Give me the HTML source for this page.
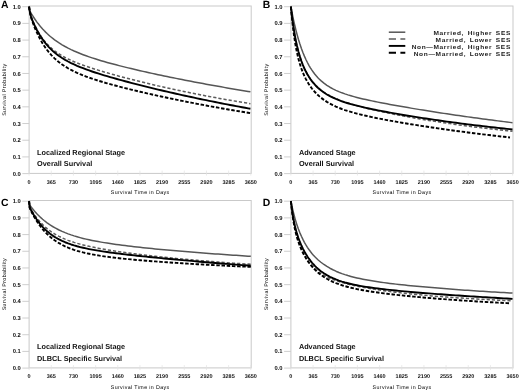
<!DOCTYPE html>
<html><head><meta charset="utf-8"><style>
html,body{margin:0;padding:0;background:#fff;}
svg{display:block;filter:blur(0.45px);}
text{font-family:"Liberation Sans",sans-serif;text-rendering:geometricPrecision;}
</style></head><body>
<svg width="520" height="391" viewBox="0 0 520 391">
<rect width="520" height="391" fill="#fff"/>
<g transform="translate(0 0)">
<rect x="29.1" y="6" width="222.1" height="167.4" fill="none" stroke="#c9c9c9" stroke-width="1"/>
<line x1="22.3" x2="29.1" y1="173.6" y2="173.6" stroke="#c9c9c9" stroke-width="0.9"/>
<text x="20.8" y="175.65" text-anchor="end" font-size="5.8" font-weight="bold" fill="#111">0.0</text>
<line x1="22.3" x2="29.1" y1="156.91" y2="156.91" stroke="#c9c9c9" stroke-width="0.9"/>
<text x="20.8" y="158.96" text-anchor="end" font-size="5.8" font-weight="bold" fill="#111">0.1</text>
<line x1="22.3" x2="29.1" y1="140.22" y2="140.22" stroke="#c9c9c9" stroke-width="0.9"/>
<text x="20.8" y="142.27" text-anchor="end" font-size="5.8" font-weight="bold" fill="#111">0.2</text>
<line x1="22.3" x2="29.1" y1="123.53" y2="123.53" stroke="#c9c9c9" stroke-width="0.9"/>
<text x="20.8" y="125.58" text-anchor="end" font-size="5.8" font-weight="bold" fill="#111">0.3</text>
<line x1="22.3" x2="29.1" y1="106.84" y2="106.84" stroke="#c9c9c9" stroke-width="0.9"/>
<text x="20.8" y="108.89" text-anchor="end" font-size="5.8" font-weight="bold" fill="#111">0.4</text>
<line x1="22.3" x2="29.1" y1="90.15" y2="90.15" stroke="#c9c9c9" stroke-width="0.9"/>
<text x="20.8" y="92.2" text-anchor="end" font-size="5.8" font-weight="bold" fill="#111">0.5</text>
<line x1="22.3" x2="29.1" y1="73.46" y2="73.46" stroke="#c9c9c9" stroke-width="0.9"/>
<text x="20.8" y="75.51" text-anchor="end" font-size="5.8" font-weight="bold" fill="#111">0.6</text>
<line x1="22.3" x2="29.1" y1="56.77" y2="56.77" stroke="#c9c9c9" stroke-width="0.9"/>
<text x="20.8" y="58.82" text-anchor="end" font-size="5.8" font-weight="bold" fill="#111">0.7</text>
<line x1="22.3" x2="29.1" y1="40.08" y2="40.08" stroke="#c9c9c9" stroke-width="0.9"/>
<text x="20.8" y="42.13" text-anchor="end" font-size="5.8" font-weight="bold" fill="#111">0.8</text>
<line x1="22.3" x2="29.1" y1="23.39" y2="23.39" stroke="#c9c9c9" stroke-width="0.9"/>
<text x="20.8" y="25.44" text-anchor="end" font-size="5.8" font-weight="bold" fill="#111">0.9</text>
<line x1="22.3" x2="29.1" y1="6.7" y2="6.7" stroke="#c9c9c9" stroke-width="0.9"/>
<text x="20.8" y="8.75" text-anchor="end" font-size="5.8" font-weight="bold" fill="#111">1.0</text>
<line x1="29.1" x2="29.1" y1="170.6" y2="175.6" stroke="#e2e2e2" stroke-width="0.7"/>
<text x="29.1" y="183.7" text-anchor="middle" font-size="5.5" font-weight="bold" fill="#111">0</text>
<line x1="51.27" x2="51.27" y1="170.6" y2="175.6" stroke="#e2e2e2" stroke-width="0.7"/>
<text x="51.27" y="183.7" text-anchor="middle" font-size="5.5" font-weight="bold" fill="#111">365</text>
<line x1="73.44" x2="73.44" y1="170.6" y2="175.6" stroke="#e2e2e2" stroke-width="0.7"/>
<text x="73.44" y="183.7" text-anchor="middle" font-size="5.5" font-weight="bold" fill="#111">730</text>
<line x1="95.61" x2="95.61" y1="170.6" y2="175.6" stroke="#e2e2e2" stroke-width="0.7"/>
<text x="95.61" y="183.7" text-anchor="middle" font-size="5.5" font-weight="bold" fill="#111">1095</text>
<line x1="117.78" x2="117.78" y1="170.6" y2="175.6" stroke="#e2e2e2" stroke-width="0.7"/>
<text x="117.78" y="183.7" text-anchor="middle" font-size="5.5" font-weight="bold" fill="#111">1460</text>
<line x1="139.95" x2="139.95" y1="170.6" y2="175.6" stroke="#e2e2e2" stroke-width="0.7"/>
<text x="139.95" y="183.7" text-anchor="middle" font-size="5.5" font-weight="bold" fill="#111">1825</text>
<line x1="162.12" x2="162.12" y1="170.6" y2="175.6" stroke="#e2e2e2" stroke-width="0.7"/>
<text x="162.12" y="183.7" text-anchor="middle" font-size="5.5" font-weight="bold" fill="#111">2190</text>
<line x1="184.29" x2="184.29" y1="170.6" y2="175.6" stroke="#e2e2e2" stroke-width="0.7"/>
<text x="184.29" y="183.7" text-anchor="middle" font-size="5.5" font-weight="bold" fill="#111">2555</text>
<line x1="206.46" x2="206.46" y1="170.6" y2="175.6" stroke="#e2e2e2" stroke-width="0.7"/>
<text x="206.46" y="183.7" text-anchor="middle" font-size="5.5" font-weight="bold" fill="#111">2920</text>
<line x1="228.63" x2="228.63" y1="170.6" y2="175.6" stroke="#e2e2e2" stroke-width="0.7"/>
<text x="228.63" y="183.7" text-anchor="middle" font-size="5.5" font-weight="bold" fill="#111">3285</text>
<line x1="250.8" x2="250.8" y1="170.6" y2="175.6" stroke="#e2e2e2" stroke-width="0.7"/>
<text x="250.8" y="183.7" text-anchor="middle" font-size="5.5" font-weight="bold" fill="#111">3650</text>
<text x="140.2" y="194.3" text-anchor="middle" font-size="5.3" fill="#000" letter-spacing="0.38">Survival Time in Days</text>
<text transform="translate(6.1 89.6) rotate(-90)" text-anchor="middle" font-size="5.3" fill="#000" letter-spacing="0.37">Survival Probability</text>
<text x="0.9" y="8.4" font-size="10.4" font-weight="bold" fill="#000">A</text>
<text x="37.1" y="154.7" font-size="7.3" font-weight="bold" fill="#111">Localized Regional Stage</text>
<text x="37.1" y="166.2" font-size="7.3" font-weight="bold" fill="#111">Overall Survival</text>
</g>
<g transform="translate(261.8 0)">
<rect x="29.1" y="6" width="222.1" height="167.4" fill="none" stroke="#c9c9c9" stroke-width="1"/>
<line x1="22.3" x2="29.1" y1="173.6" y2="173.6" stroke="#c9c9c9" stroke-width="0.9"/>
<text x="20.8" y="175.65" text-anchor="end" font-size="5.8" font-weight="bold" fill="#111">0.0</text>
<line x1="22.3" x2="29.1" y1="156.91" y2="156.91" stroke="#c9c9c9" stroke-width="0.9"/>
<text x="20.8" y="158.96" text-anchor="end" font-size="5.8" font-weight="bold" fill="#111">0.1</text>
<line x1="22.3" x2="29.1" y1="140.22" y2="140.22" stroke="#c9c9c9" stroke-width="0.9"/>
<text x="20.8" y="142.27" text-anchor="end" font-size="5.8" font-weight="bold" fill="#111">0.2</text>
<line x1="22.3" x2="29.1" y1="123.53" y2="123.53" stroke="#c9c9c9" stroke-width="0.9"/>
<text x="20.8" y="125.58" text-anchor="end" font-size="5.8" font-weight="bold" fill="#111">0.3</text>
<line x1="22.3" x2="29.1" y1="106.84" y2="106.84" stroke="#c9c9c9" stroke-width="0.9"/>
<text x="20.8" y="108.89" text-anchor="end" font-size="5.8" font-weight="bold" fill="#111">0.4</text>
<line x1="22.3" x2="29.1" y1="90.15" y2="90.15" stroke="#c9c9c9" stroke-width="0.9"/>
<text x="20.8" y="92.2" text-anchor="end" font-size="5.8" font-weight="bold" fill="#111">0.5</text>
<line x1="22.3" x2="29.1" y1="73.46" y2="73.46" stroke="#c9c9c9" stroke-width="0.9"/>
<text x="20.8" y="75.51" text-anchor="end" font-size="5.8" font-weight="bold" fill="#111">0.6</text>
<line x1="22.3" x2="29.1" y1="56.77" y2="56.77" stroke="#c9c9c9" stroke-width="0.9"/>
<text x="20.8" y="58.82" text-anchor="end" font-size="5.8" font-weight="bold" fill="#111">0.7</text>
<line x1="22.3" x2="29.1" y1="40.08" y2="40.08" stroke="#c9c9c9" stroke-width="0.9"/>
<text x="20.8" y="42.13" text-anchor="end" font-size="5.8" font-weight="bold" fill="#111">0.8</text>
<line x1="22.3" x2="29.1" y1="23.39" y2="23.39" stroke="#c9c9c9" stroke-width="0.9"/>
<text x="20.8" y="25.44" text-anchor="end" font-size="5.8" font-weight="bold" fill="#111">0.9</text>
<line x1="22.3" x2="29.1" y1="6.7" y2="6.7" stroke="#c9c9c9" stroke-width="0.9"/>
<text x="20.8" y="8.75" text-anchor="end" font-size="5.8" font-weight="bold" fill="#111">1.0</text>
<line x1="29.1" x2="29.1" y1="170.6" y2="175.6" stroke="#e2e2e2" stroke-width="0.7"/>
<text x="29.1" y="183.7" text-anchor="middle" font-size="5.5" font-weight="bold" fill="#111">0</text>
<line x1="51.27" x2="51.27" y1="170.6" y2="175.6" stroke="#e2e2e2" stroke-width="0.7"/>
<text x="51.27" y="183.7" text-anchor="middle" font-size="5.5" font-weight="bold" fill="#111">365</text>
<line x1="73.44" x2="73.44" y1="170.6" y2="175.6" stroke="#e2e2e2" stroke-width="0.7"/>
<text x="73.44" y="183.7" text-anchor="middle" font-size="5.5" font-weight="bold" fill="#111">730</text>
<line x1="95.61" x2="95.61" y1="170.6" y2="175.6" stroke="#e2e2e2" stroke-width="0.7"/>
<text x="95.61" y="183.7" text-anchor="middle" font-size="5.5" font-weight="bold" fill="#111">1095</text>
<line x1="117.78" x2="117.78" y1="170.6" y2="175.6" stroke="#e2e2e2" stroke-width="0.7"/>
<text x="117.78" y="183.7" text-anchor="middle" font-size="5.5" font-weight="bold" fill="#111">1460</text>
<line x1="139.95" x2="139.95" y1="170.6" y2="175.6" stroke="#e2e2e2" stroke-width="0.7"/>
<text x="139.95" y="183.7" text-anchor="middle" font-size="5.5" font-weight="bold" fill="#111">1825</text>
<line x1="162.12" x2="162.12" y1="170.6" y2="175.6" stroke="#e2e2e2" stroke-width="0.7"/>
<text x="162.12" y="183.7" text-anchor="middle" font-size="5.5" font-weight="bold" fill="#111">2190</text>
<line x1="184.29" x2="184.29" y1="170.6" y2="175.6" stroke="#e2e2e2" stroke-width="0.7"/>
<text x="184.29" y="183.7" text-anchor="middle" font-size="5.5" font-weight="bold" fill="#111">2555</text>
<line x1="206.46" x2="206.46" y1="170.6" y2="175.6" stroke="#e2e2e2" stroke-width="0.7"/>
<text x="206.46" y="183.7" text-anchor="middle" font-size="5.5" font-weight="bold" fill="#111">2920</text>
<line x1="228.63" x2="228.63" y1="170.6" y2="175.6" stroke="#e2e2e2" stroke-width="0.7"/>
<text x="228.63" y="183.7" text-anchor="middle" font-size="5.5" font-weight="bold" fill="#111">3285</text>
<line x1="250.8" x2="250.8" y1="170.6" y2="175.6" stroke="#e2e2e2" stroke-width="0.7"/>
<text x="250.8" y="183.7" text-anchor="middle" font-size="5.5" font-weight="bold" fill="#111">3650</text>
<text x="140.2" y="194.3" text-anchor="middle" font-size="5.3" fill="#000" letter-spacing="0.38">Survival Time in Days</text>
<text transform="translate(6.1 89.6) rotate(-90)" text-anchor="middle" font-size="5.3" fill="#000" letter-spacing="0.37">Survival Probability</text>
<text x="0.9" y="8.4" font-size="10.4" font-weight="bold" fill="#000">B</text>
<text x="37.1" y="154.7" font-size="7.3" font-weight="bold" fill="#111">Advanced Stage</text>
<text x="37.1" y="166.2" font-size="7.3" font-weight="bold" fill="#111">Overall Survival</text>
</g>
<g transform="translate(0 194.5)">
<rect x="29.1" y="6" width="222.1" height="167.4" fill="none" stroke="#c9c9c9" stroke-width="1"/>
<line x1="22.3" x2="29.1" y1="173.6" y2="173.6" stroke="#c9c9c9" stroke-width="0.9"/>
<text x="20.8" y="175.65" text-anchor="end" font-size="5.8" font-weight="bold" fill="#111">0.0</text>
<line x1="22.3" x2="29.1" y1="156.91" y2="156.91" stroke="#c9c9c9" stroke-width="0.9"/>
<text x="20.8" y="158.96" text-anchor="end" font-size="5.8" font-weight="bold" fill="#111">0.1</text>
<line x1="22.3" x2="29.1" y1="140.22" y2="140.22" stroke="#c9c9c9" stroke-width="0.9"/>
<text x="20.8" y="142.27" text-anchor="end" font-size="5.8" font-weight="bold" fill="#111">0.2</text>
<line x1="22.3" x2="29.1" y1="123.53" y2="123.53" stroke="#c9c9c9" stroke-width="0.9"/>
<text x="20.8" y="125.58" text-anchor="end" font-size="5.8" font-weight="bold" fill="#111">0.3</text>
<line x1="22.3" x2="29.1" y1="106.84" y2="106.84" stroke="#c9c9c9" stroke-width="0.9"/>
<text x="20.8" y="108.89" text-anchor="end" font-size="5.8" font-weight="bold" fill="#111">0.4</text>
<line x1="22.3" x2="29.1" y1="90.15" y2="90.15" stroke="#c9c9c9" stroke-width="0.9"/>
<text x="20.8" y="92.2" text-anchor="end" font-size="5.8" font-weight="bold" fill="#111">0.5</text>
<line x1="22.3" x2="29.1" y1="73.46" y2="73.46" stroke="#c9c9c9" stroke-width="0.9"/>
<text x="20.8" y="75.51" text-anchor="end" font-size="5.8" font-weight="bold" fill="#111">0.6</text>
<line x1="22.3" x2="29.1" y1="56.77" y2="56.77" stroke="#c9c9c9" stroke-width="0.9"/>
<text x="20.8" y="58.82" text-anchor="end" font-size="5.8" font-weight="bold" fill="#111">0.7</text>
<line x1="22.3" x2="29.1" y1="40.08" y2="40.08" stroke="#c9c9c9" stroke-width="0.9"/>
<text x="20.8" y="42.13" text-anchor="end" font-size="5.8" font-weight="bold" fill="#111">0.8</text>
<line x1="22.3" x2="29.1" y1="23.39" y2="23.39" stroke="#c9c9c9" stroke-width="0.9"/>
<text x="20.8" y="25.44" text-anchor="end" font-size="5.8" font-weight="bold" fill="#111">0.9</text>
<line x1="22.3" x2="29.1" y1="6.7" y2="6.7" stroke="#c9c9c9" stroke-width="0.9"/>
<text x="20.8" y="8.75" text-anchor="end" font-size="5.8" font-weight="bold" fill="#111">1.0</text>
<line x1="29.1" x2="29.1" y1="170.6" y2="175.6" stroke="#e2e2e2" stroke-width="0.7"/>
<text x="29.1" y="183.7" text-anchor="middle" font-size="5.5" font-weight="bold" fill="#111">0</text>
<line x1="51.27" x2="51.27" y1="170.6" y2="175.6" stroke="#e2e2e2" stroke-width="0.7"/>
<text x="51.27" y="183.7" text-anchor="middle" font-size="5.5" font-weight="bold" fill="#111">365</text>
<line x1="73.44" x2="73.44" y1="170.6" y2="175.6" stroke="#e2e2e2" stroke-width="0.7"/>
<text x="73.44" y="183.7" text-anchor="middle" font-size="5.5" font-weight="bold" fill="#111">730</text>
<line x1="95.61" x2="95.61" y1="170.6" y2="175.6" stroke="#e2e2e2" stroke-width="0.7"/>
<text x="95.61" y="183.7" text-anchor="middle" font-size="5.5" font-weight="bold" fill="#111">1095</text>
<line x1="117.78" x2="117.78" y1="170.6" y2="175.6" stroke="#e2e2e2" stroke-width="0.7"/>
<text x="117.78" y="183.7" text-anchor="middle" font-size="5.5" font-weight="bold" fill="#111">1460</text>
<line x1="139.95" x2="139.95" y1="170.6" y2="175.6" stroke="#e2e2e2" stroke-width="0.7"/>
<text x="139.95" y="183.7" text-anchor="middle" font-size="5.5" font-weight="bold" fill="#111">1825</text>
<line x1="162.12" x2="162.12" y1="170.6" y2="175.6" stroke="#e2e2e2" stroke-width="0.7"/>
<text x="162.12" y="183.7" text-anchor="middle" font-size="5.5" font-weight="bold" fill="#111">2190</text>
<line x1="184.29" x2="184.29" y1="170.6" y2="175.6" stroke="#e2e2e2" stroke-width="0.7"/>
<text x="184.29" y="183.7" text-anchor="middle" font-size="5.5" font-weight="bold" fill="#111">2555</text>
<line x1="206.46" x2="206.46" y1="170.6" y2="175.6" stroke="#e2e2e2" stroke-width="0.7"/>
<text x="206.46" y="183.7" text-anchor="middle" font-size="5.5" font-weight="bold" fill="#111">2920</text>
<line x1="228.63" x2="228.63" y1="170.6" y2="175.6" stroke="#e2e2e2" stroke-width="0.7"/>
<text x="228.63" y="183.7" text-anchor="middle" font-size="5.5" font-weight="bold" fill="#111">3285</text>
<line x1="250.8" x2="250.8" y1="170.6" y2="175.6" stroke="#e2e2e2" stroke-width="0.7"/>
<text x="250.8" y="183.7" text-anchor="middle" font-size="5.5" font-weight="bold" fill="#111">3650</text>
<text x="140.2" y="194.3" text-anchor="middle" font-size="5.3" fill="#000" letter-spacing="0.38">Survival Time in Days</text>
<text transform="translate(6.1 89.6) rotate(-90)" text-anchor="middle" font-size="5.3" fill="#000" letter-spacing="0.37">Survival Probability</text>
<text x="0.9" y="11.4" font-size="10.4" font-weight="bold" fill="#000">C</text>
<text x="37.1" y="154.7" font-size="7.3" font-weight="bold" fill="#111">Localized Regional Stage</text>
<text x="37.1" y="166.2" font-size="7.3" font-weight="bold" fill="#111">DLBCL Specific Survival</text>
</g>
<g transform="translate(261.8 194.5)">
<rect x="29.1" y="6" width="222.1" height="167.4" fill="none" stroke="#c9c9c9" stroke-width="1"/>
<line x1="22.3" x2="29.1" y1="173.6" y2="173.6" stroke="#c9c9c9" stroke-width="0.9"/>
<text x="20.8" y="175.65" text-anchor="end" font-size="5.8" font-weight="bold" fill="#111">0.0</text>
<line x1="22.3" x2="29.1" y1="156.91" y2="156.91" stroke="#c9c9c9" stroke-width="0.9"/>
<text x="20.8" y="158.96" text-anchor="end" font-size="5.8" font-weight="bold" fill="#111">0.1</text>
<line x1="22.3" x2="29.1" y1="140.22" y2="140.22" stroke="#c9c9c9" stroke-width="0.9"/>
<text x="20.8" y="142.27" text-anchor="end" font-size="5.8" font-weight="bold" fill="#111">0.2</text>
<line x1="22.3" x2="29.1" y1="123.53" y2="123.53" stroke="#c9c9c9" stroke-width="0.9"/>
<text x="20.8" y="125.58" text-anchor="end" font-size="5.8" font-weight="bold" fill="#111">0.3</text>
<line x1="22.3" x2="29.1" y1="106.84" y2="106.84" stroke="#c9c9c9" stroke-width="0.9"/>
<text x="20.8" y="108.89" text-anchor="end" font-size="5.8" font-weight="bold" fill="#111">0.4</text>
<line x1="22.3" x2="29.1" y1="90.15" y2="90.15" stroke="#c9c9c9" stroke-width="0.9"/>
<text x="20.8" y="92.2" text-anchor="end" font-size="5.8" font-weight="bold" fill="#111">0.5</text>
<line x1="22.3" x2="29.1" y1="73.46" y2="73.46" stroke="#c9c9c9" stroke-width="0.9"/>
<text x="20.8" y="75.51" text-anchor="end" font-size="5.8" font-weight="bold" fill="#111">0.6</text>
<line x1="22.3" x2="29.1" y1="56.77" y2="56.77" stroke="#c9c9c9" stroke-width="0.9"/>
<text x="20.8" y="58.82" text-anchor="end" font-size="5.8" font-weight="bold" fill="#111">0.7</text>
<line x1="22.3" x2="29.1" y1="40.08" y2="40.08" stroke="#c9c9c9" stroke-width="0.9"/>
<text x="20.8" y="42.13" text-anchor="end" font-size="5.8" font-weight="bold" fill="#111">0.8</text>
<line x1="22.3" x2="29.1" y1="23.39" y2="23.39" stroke="#c9c9c9" stroke-width="0.9"/>
<text x="20.8" y="25.44" text-anchor="end" font-size="5.8" font-weight="bold" fill="#111">0.9</text>
<line x1="22.3" x2="29.1" y1="6.7" y2="6.7" stroke="#c9c9c9" stroke-width="0.9"/>
<text x="20.8" y="8.75" text-anchor="end" font-size="5.8" font-weight="bold" fill="#111">1.0</text>
<line x1="29.1" x2="29.1" y1="170.6" y2="175.6" stroke="#e2e2e2" stroke-width="0.7"/>
<text x="29.1" y="183.7" text-anchor="middle" font-size="5.5" font-weight="bold" fill="#111">0</text>
<line x1="51.27" x2="51.27" y1="170.6" y2="175.6" stroke="#e2e2e2" stroke-width="0.7"/>
<text x="51.27" y="183.7" text-anchor="middle" font-size="5.5" font-weight="bold" fill="#111">365</text>
<line x1="73.44" x2="73.44" y1="170.6" y2="175.6" stroke="#e2e2e2" stroke-width="0.7"/>
<text x="73.44" y="183.7" text-anchor="middle" font-size="5.5" font-weight="bold" fill="#111">730</text>
<line x1="95.61" x2="95.61" y1="170.6" y2="175.6" stroke="#e2e2e2" stroke-width="0.7"/>
<text x="95.61" y="183.7" text-anchor="middle" font-size="5.5" font-weight="bold" fill="#111">1095</text>
<line x1="117.78" x2="117.78" y1="170.6" y2="175.6" stroke="#e2e2e2" stroke-width="0.7"/>
<text x="117.78" y="183.7" text-anchor="middle" font-size="5.5" font-weight="bold" fill="#111">1460</text>
<line x1="139.95" x2="139.95" y1="170.6" y2="175.6" stroke="#e2e2e2" stroke-width="0.7"/>
<text x="139.95" y="183.7" text-anchor="middle" font-size="5.5" font-weight="bold" fill="#111">1825</text>
<line x1="162.12" x2="162.12" y1="170.6" y2="175.6" stroke="#e2e2e2" stroke-width="0.7"/>
<text x="162.12" y="183.7" text-anchor="middle" font-size="5.5" font-weight="bold" fill="#111">2190</text>
<line x1="184.29" x2="184.29" y1="170.6" y2="175.6" stroke="#e2e2e2" stroke-width="0.7"/>
<text x="184.29" y="183.7" text-anchor="middle" font-size="5.5" font-weight="bold" fill="#111">2555</text>
<line x1="206.46" x2="206.46" y1="170.6" y2="175.6" stroke="#e2e2e2" stroke-width="0.7"/>
<text x="206.46" y="183.7" text-anchor="middle" font-size="5.5" font-weight="bold" fill="#111">2920</text>
<line x1="228.63" x2="228.63" y1="170.6" y2="175.6" stroke="#e2e2e2" stroke-width="0.7"/>
<text x="228.63" y="183.7" text-anchor="middle" font-size="5.5" font-weight="bold" fill="#111">3285</text>
<line x1="250.8" x2="250.8" y1="170.6" y2="175.6" stroke="#e2e2e2" stroke-width="0.7"/>
<text x="250.8" y="183.7" text-anchor="middle" font-size="5.5" font-weight="bold" fill="#111">3650</text>
<text x="140.2" y="194.3" text-anchor="middle" font-size="5.3" fill="#000" letter-spacing="0.38">Survival Time in Days</text>
<text transform="translate(6.1 89.6) rotate(-90)" text-anchor="middle" font-size="5.3" fill="#000" letter-spacing="0.37">Survival Probability</text>
<text x="0.9" y="11.4" font-size="10.4" font-weight="bold" fill="#000">D</text>
<text x="37.1" y="154.7" font-size="7.3" font-weight="bold" fill="#111">Advanced Stage</text>
<text x="37.1" y="166.2" font-size="7.3" font-weight="bold" fill="#111">DLBCL Specific Survival</text>
</g>
<path d="M29.1 6.7 L29.6 10.3 L30.1 11.41 L30.6 12.31 L31.1 13.17 L31.6 14.01 L32.1 14.84 L32.6 15.65 L33.1 16.44 L33.6 17.22 L34.1 17.98 L34.6 18.73 L35.1 19.46 L36.6 21.58 L38.1 23.59 L39.6 25.48 L41.1 27.27 L42.6 28.97 L44.1 30.58 L45.6 32.11 L47.1 33.56 L48.6 34.93 L50.1 36.25 L51.6 37.49 L53.1 38.68 L54.6 39.82 L56.1 40.9 L57.6 41.94 L59.1 42.93 L62.1 44.8 L65.1 46.52 L68.1 48.11 L71.1 49.6 L74.1 50.99 L77.1 52.29 L80.1 53.52 L83.1 54.68 L86.1 55.79 L89.1 56.85 L92.1 57.86 L95.1 58.83 L98.1 59.77 L101.1 60.67 L104.1 61.55 L107.1 62.41 L110.1 63.24 L113.1 64.05 L116.1 64.84 L119.1 65.62 L122.1 66.38 L125.1 67.13 L128.1 67.86 L131.1 68.58 L134.1 69.29 L137.1 69.99 L140.1 70.69 L143.1 71.37 L146.1 72.04 L149.1 72.71 L152.1 73.37 L155.1 74.02 L158.1 74.66 L161.1 75.3 L164.1 75.93 L167.1 76.55 L170.1 77.17 L173.1 77.78 L176.1 78.39 L179.1 78.99 L182.1 79.58 L185.1 80.17 L188.1 80.76 L191.1 81.33 L194.1 81.91 L197.1 82.47 L200.1 83.04 L203.1 83.6 L206.1 84.15 L209.1 84.7 L212.1 85.24 L215.1 85.78 L218.1 86.31 L221.1 86.84 L224.1 87.37 L227.1 87.89 L230.1 88.4 L233.1 88.91 L236.1 89.42 L239.1 89.92 L242.1 90.42 L245.1 90.92 L248.1 91.4 L250.4 91.78" fill="none" stroke="#565656" stroke-width="1.5" stroke-linejoin="round"/>
<path d="M29.1 6.7 L29.6 10.46 L30.1 12.94 L30.6 14.81 L31.1 16.37 L31.6 17.78 L32.1 19.1 L32.6 20.35 L33.1 21.55 L33.6 22.71 L34.1 23.83 L34.6 24.92 L35.1 25.98 L36.6 28.97 L38.1 31.7 L39.6 34.21 L41.1 36.51 L42.6 38.63 L44.1 40.59 L45.6 42.4 L47.1 44.07 L48.6 45.62 L50.1 47.07 L51.6 48.42 L53.1 49.68 L54.6 50.86 L56.1 51.97 L57.6 53.01 L59.1 54 L62.1 55.83 L65.1 57.48 L68.1 58.99 L71.1 60.39 L74.1 61.69 L77.1 62.92 L80.1 64.08 L83.1 65.18 L86.1 66.24 L89.1 67.26 L92.1 68.25 L95.1 69.21 L98.1 70.14 L101.1 71.05 L104.1 71.94 L107.1 72.82 L110.1 73.68 L113.1 74.52 L116.1 75.35 L119.1 76.17 L122.1 76.97 L125.1 77.77 L128.1 78.55 L131.1 79.32 L134.1 80.08 L137.1 80.84 L140.1 81.58 L143.1 82.32 L146.1 83.04 L149.1 83.76 L152.1 84.47 L155.1 85.17 L158.1 85.86 L161.1 86.54 L164.1 87.22 L167.1 87.89 L170.1 88.55 L173.1 89.2 L176.1 89.84 L179.1 90.48 L182.1 91.11 L185.1 91.73 L188.1 92.35 L191.1 92.96 L194.1 93.56 L197.1 94.15 L200.1 94.74 L203.1 95.32 L206.1 95.89 L209.1 96.46 L212.1 97.02 L215.1 97.58 L218.1 98.12 L221.1 98.66 L224.1 99.2 L227.1 99.73 L230.1 100.25 L233.1 100.77 L236.1 101.28 L239.1 101.79 L242.1 102.28 L245.1 102.78 L248.1 103.27 L250.4 103.64" fill="none" stroke="#5c5c5c" stroke-width="1.5" stroke-dasharray="3.2 2" stroke-linejoin="round"/>
<path d="M29.1 6.7 L29.6 10.57 L30.1 13.37 L30.6 15.57 L31.1 17.43 L31.6 19.09 L32.1 20.62 L32.6 22.06 L33.1 23.44 L33.6 24.77 L34.1 26.06 L34.6 27.3 L35.1 28.52 L36.6 31.97 L38.1 35.17 L39.6 38.12 L41.1 40.86 L42.6 43.4 L44.1 45.76 L45.6 47.96 L47.1 50.01 L48.6 51.91 L50.1 53.69 L51.6 55.36 L53.1 56.91 L54.6 58.37 L56.1 59.75 L57.6 61.04 L59.1 62.25 L62.1 64.49 L65.1 66.49 L68.1 68.31 L71.1 69.96 L74.1 71.47 L77.1 72.87 L80.1 74.17 L83.1 75.39 L86.1 76.54 L89.1 77.62 L92.1 78.66 L95.1 79.65 L98.1 80.61 L101.1 81.53 L104.1 82.42 L107.1 83.29 L110.1 84.13 L113.1 84.95 L116.1 85.76 L119.1 86.55 L122.1 87.33 L125.1 88.09 L128.1 88.84 L131.1 89.58 L134.1 90.31 L137.1 91.03 L140.1 91.74 L143.1 92.44 L146.1 93.13 L149.1 93.82 L152.1 94.49 L155.1 95.16 L158.1 95.82 L161.1 96.48 L164.1 97.12 L167.1 97.76 L170.1 98.39 L173.1 99.02 L176.1 99.64 L179.1 100.25 L182.1 100.86 L185.1 101.46 L188.1 102.06 L191.1 102.65 L194.1 103.23 L197.1 103.81 L200.1 104.38 L203.1 104.94 L206.1 105.5 L209.1 106.06 L212.1 106.61 L215.1 107.15 L218.1 107.69 L221.1 108.22 L224.1 108.75 L227.1 109.27 L230.1 109.78 L233.1 110.29 L236.1 110.8 L239.1 111.3 L242.1 111.8 L245.1 112.29 L248.1 112.78 L250.4 113.15" fill="none" stroke="#000" stroke-width="1.9" stroke-dasharray="3.5 1.7" stroke-linejoin="round"/>
<path d="M29.1 6.7 L29.6 10.44 L30.1 13.08 L30.6 15.11 L31.1 16.79 L31.6 18.25 L32.1 19.6 L32.6 20.86 L33.1 22.06 L33.6 23.21 L34.1 24.33 L34.6 25.41 L35.1 26.46 L36.6 29.46 L38.1 32.22 L39.6 34.79 L41.1 37.17 L42.6 39.38 L44.1 41.44 L45.6 43.36 L47.1 45.15 L48.6 46.82 L50.1 48.38 L51.6 49.85 L53.1 51.23 L54.6 52.53 L56.1 53.75 L57.6 54.9 L59.1 56 L62.1 58.02 L65.1 59.85 L68.1 61.52 L71.1 63.06 L74.1 64.48 L77.1 65.81 L80.1 67.06 L83.1 68.24 L86.1 69.37 L89.1 70.45 L92.1 71.48 L95.1 72.48 L98.1 73.45 L101.1 74.39 L104.1 75.3 L107.1 76.2 L110.1 77.08 L113.1 77.94 L116.1 78.78 L119.1 79.62 L122.1 80.44 L125.1 81.25 L128.1 82.04 L131.1 82.83 L134.1 83.61 L137.1 84.38 L140.1 85.14 L143.1 85.9 L146.1 86.65 L149.1 87.38 L152.1 88.12 L155.1 88.84 L158.1 89.56 L161.1 90.27 L164.1 90.97 L167.1 91.67 L170.1 92.36 L173.1 93.05 L176.1 93.73 L179.1 94.4 L182.1 95.07 L185.1 95.73 L188.1 96.38 L191.1 97.03 L194.1 97.68 L197.1 98.31 L200.1 98.95 L203.1 99.57 L206.1 100.19 L209.1 100.81 L212.1 101.42 L215.1 102.03 L218.1 102.63 L221.1 103.22 L224.1 103.81 L227.1 104.39 L230.1 104.97 L233.1 105.55 L236.1 106.12 L239.1 106.68 L242.1 107.24 L245.1 107.79 L248.1 108.34 L250.4 108.76" fill="none" stroke="#000" stroke-width="1.9" stroke-linejoin="round"/>
<path d="M290.9 6.7 L291.4 9.39 L291.9 11.99 L292.4 14.51 L292.9 16.96 L293.4 19.32 L293.9 21.61 L294.4 23.82 L294.9 25.97 L295.4 28.05 L295.9 30.06 L296.4 32.01 L296.9 33.9 L298.4 39.22 L299.9 44.06 L301.4 48.46 L302.9 52.47 L304.4 56.12 L305.9 59.46 L307.4 62.5 L308.9 65.28 L310.4 67.83 L311.9 70.16 L313.4 72.29 L314.9 74.26 L316.4 76.06 L317.9 77.72 L319.4 79.25 L320.9 80.66 L323.9 83.18 L326.9 85.35 L329.9 87.24 L332.9 88.89 L335.9 90.35 L338.9 91.66 L341.9 92.83 L344.9 93.9 L347.9 94.88 L350.9 95.78 L353.9 96.63 L356.9 97.43 L359.9 98.18 L362.9 98.9 L365.9 99.59 L368.9 100.25 L371.9 100.89 L374.9 101.51 L377.9 102.12 L380.9 102.71 L383.9 103.29 L386.9 103.86 L389.9 104.42 L392.9 104.97 L395.9 105.51 L398.9 106.05 L401.9 106.58 L404.9 107.1 L407.9 107.61 L410.9 108.12 L413.9 108.63 L416.9 109.12 L419.9 109.62 L422.9 110.1 L425.9 110.59 L428.9 111.06 L431.9 111.54 L434.9 112.01 L437.9 112.47 L440.9 112.93 L443.9 113.38 L446.9 113.83 L449.9 114.28 L452.9 114.72 L455.9 115.16 L458.9 115.59 L461.9 116.02 L464.9 116.45 L467.9 116.87 L470.9 117.29 L473.9 117.7 L476.9 118.11 L479.9 118.52 L482.9 118.92 L485.9 119.32 L488.9 119.71 L491.9 120.1 L494.9 120.49 L497.9 120.87 L500.9 121.25 L503.9 121.63 L506.9 122 L509.9 122.37 L512.5 122.69" fill="none" stroke="#565656" stroke-width="1.5" stroke-linejoin="round"/>
<path d="M290.9 6.7 L291.4 11.26 L291.9 15.51 L292.4 19.48 L292.9 23.19 L293.4 26.66 L293.9 29.91 L294.4 32.96 L294.9 35.83 L295.4 38.53 L295.9 41.07 L296.4 43.46 L296.9 45.72 L298.4 51.81 L299.9 57.01 L301.4 61.49 L302.9 65.4 L304.4 68.83 L305.9 71.87 L307.4 74.58 L308.9 77.01 L310.4 79.2 L311.9 81.18 L313.4 82.99 L314.9 84.64 L316.4 86.16 L317.9 87.56 L319.4 88.85 L320.9 90.05 L323.9 92.2 L326.9 94.09 L329.9 95.76 L332.9 97.25 L335.9 98.6 L338.9 99.83 L341.9 100.97 L344.9 102.03 L347.9 103.01 L350.9 103.95 L353.9 104.83 L356.9 105.68 L359.9 106.49 L362.9 107.27 L365.9 108.02 L368.9 108.75 L371.9 109.46 L374.9 110.15 L377.9 110.82 L380.9 111.48 L383.9 112.12 L386.9 112.75 L389.9 113.36 L392.9 113.97 L395.9 114.56 L398.9 115.14 L401.9 115.71 L404.9 116.28 L407.9 116.83 L410.9 117.37 L413.9 117.9 L416.9 118.42 L419.9 118.94 L422.9 119.44 L425.9 119.94 L428.9 120.43 L431.9 120.91 L434.9 121.38 L437.9 121.85 L440.9 122.31 L443.9 122.76 L446.9 123.2 L449.9 123.63 L452.9 124.06 L455.9 124.48 L458.9 124.9 L461.9 125.3 L464.9 125.7 L467.9 126.1 L470.9 126.49 L473.9 126.87 L476.9 127.24 L479.9 127.61 L482.9 127.97 L485.9 128.33 L488.9 128.68 L491.9 129.03 L494.9 129.37 L497.9 129.7 L500.9 130.03 L503.9 130.35 L506.9 130.67 L509.9 130.98 L512.5 131.25" fill="none" stroke="#5c5c5c" stroke-width="1.5" stroke-dasharray="3.2 2" stroke-linejoin="round"/>
<path d="M290.9 6.7 L291.4 12.35 L291.9 17.55 L292.4 22.33 L292.9 26.73 L293.4 30.8 L293.9 34.56 L294.4 38.04 L294.9 41.28 L295.4 44.29 L295.9 47.09 L296.4 49.71 L296.9 52.16 L298.4 58.63 L299.9 64.04 L301.4 68.64 L302.9 72.6 L304.4 76.05 L305.9 79.1 L307.4 81.82 L308.9 84.26 L310.4 86.47 L311.9 88.49 L313.4 90.33 L314.9 92.02 L316.4 93.59 L317.9 95.03 L319.4 96.38 L320.9 97.63 L323.9 99.88 L326.9 101.86 L329.9 103.61 L332.9 105.17 L335.9 106.57 L338.9 107.84 L341.9 108.99 L344.9 110.05 L347.9 111.03 L350.9 111.94 L353.9 112.79 L356.9 113.6 L359.9 114.36 L362.9 115.09 L365.9 115.78 L368.9 116.45 L371.9 117.1 L374.9 117.72 L377.9 118.33 L380.9 118.92 L383.9 119.49 L386.9 120.06 L389.9 120.61 L392.9 121.15 L395.9 121.68 L398.9 122.2 L401.9 122.71 L404.9 123.22 L407.9 123.72 L410.9 124.21 L413.9 124.69 L416.9 125.17 L419.9 125.64 L422.9 126.1 L425.9 126.56 L428.9 127.01 L431.9 127.46 L434.9 127.9 L437.9 128.34 L440.9 128.77 L443.9 129.2 L446.9 129.62 L449.9 130.04 L452.9 130.45 L455.9 130.86 L458.9 131.26 L461.9 131.66 L464.9 132.05 L467.9 132.44 L470.9 132.82 L473.9 133.2 L476.9 133.58 L479.9 133.95 L482.9 134.32 L485.9 134.68 L488.9 135.04 L491.9 135.4 L494.9 135.75 L497.9 136.1 L500.9 136.44 L503.9 136.78 L506.9 137.11 L509.9 137.45 L510 137.46" fill="none" stroke="#000" stroke-width="1.9" stroke-dasharray="3.5 1.7" stroke-linejoin="round"/>
<path d="M290.9 6.7 L291.4 11.29 L291.9 15.55 L292.4 19.51 L292.9 23.2 L293.4 26.65 L293.9 29.87 L294.4 32.89 L294.9 35.72 L295.4 38.38 L295.9 40.89 L296.4 43.25 L296.9 45.48 L298.4 51.49 L299.9 56.64 L301.4 61.11 L302.9 65.02 L304.4 68.48 L305.9 71.56 L307.4 74.32 L308.9 76.81 L310.4 79.07 L311.9 81.12 L313.4 82.99 L314.9 84.7 L316.4 86.28 L317.9 87.73 L319.4 89.07 L320.9 90.31 L323.9 92.53 L326.9 94.46 L329.9 96.15 L332.9 97.64 L335.9 98.98 L338.9 100.19 L341.9 101.28 L344.9 102.29 L347.9 103.23 L350.9 104.1 L353.9 104.91 L356.9 105.69 L359.9 106.43 L362.9 107.13 L365.9 107.81 L368.9 108.46 L371.9 109.1 L374.9 109.71 L377.9 110.31 L380.9 110.9 L383.9 111.47 L386.9 112.03 L389.9 112.58 L392.9 113.12 L395.9 113.65 L398.9 114.18 L401.9 114.69 L404.9 115.19 L407.9 115.69 L410.9 116.18 L413.9 116.67 L416.9 117.14 L419.9 117.61 L422.9 118.08 L425.9 118.54 L428.9 118.99 L431.9 119.43 L434.9 119.87 L437.9 120.31 L440.9 120.73 L443.9 121.16 L446.9 121.57 L449.9 121.98 L452.9 122.39 L455.9 122.79 L458.9 123.18 L461.9 123.58 L464.9 123.96 L467.9 124.34 L470.9 124.72 L473.9 125.09 L476.9 125.45 L479.9 125.81 L482.9 126.17 L485.9 126.52 L488.9 126.87 L491.9 127.21 L494.9 127.55 L497.9 127.88 L500.9 128.21 L503.9 128.53 L506.9 128.85 L509.9 129.17 L512.5 129.44" fill="none" stroke="#000" stroke-width="1.9" stroke-linejoin="round"/>
<path d="M29.1 201.2 L29.6 204.61 L30.1 205.52 L30.6 206.22 L31.1 206.89 L31.6 207.54 L32.1 208.18 L32.6 208.81 L33.1 209.43 L33.6 210.04 L34.1 210.63 L34.6 211.21 L35.1 211.79 L36.6 213.44 L38.1 215.01 L39.6 216.49 L41.1 217.89 L42.6 219.21 L44.1 220.47 L45.6 221.66 L47.1 222.79 L48.6 223.86 L50.1 224.88 L51.6 225.84 L53.1 226.76 L54.6 227.63 L56.1 228.46 L57.6 229.25 L59.1 230 L62.1 231.4 L65.1 232.67 L68.1 233.84 L71.1 234.91 L74.1 235.89 L77.1 236.79 L80.1 237.63 L83.1 238.4 L86.1 239.12 L89.1 239.8 L92.1 240.43 L95.1 241.03 L98.1 241.59 L101.1 242.12 L104.1 242.62 L107.1 243.1 L110.1 243.56 L113.1 244 L116.1 244.42 L119.1 244.83 L122.1 245.22 L125.1 245.6 L128.1 245.97 L131.1 246.33 L134.1 246.67 L137.1 247.01 L140.1 247.34 L143.1 247.66 L146.1 247.97 L149.1 248.28 L152.1 248.58 L155.1 248.88 L158.1 249.17 L161.1 249.45 L164.1 249.73 L167.1 250 L170.1 250.28 L173.1 250.54 L176.1 250.8 L179.1 251.06 L182.1 251.32 L185.1 251.57 L188.1 251.81 L191.1 252.06 L194.1 252.3 L197.1 252.54 L200.1 252.77 L203.1 253 L206.1 253.23 L209.1 253.45 L212.1 253.68 L215.1 253.9 L218.1 254.11 L221.1 254.33 L224.1 254.54 L227.1 254.75 L230.1 254.96 L233.1 255.16 L236.1 255.36 L239.1 255.56 L242.1 255.76 L245.1 255.95 L248.1 256.15 L250.8 256.32" fill="none" stroke="#565656" stroke-width="1.5" stroke-linejoin="round"/>
<path d="M29.1 201.2 L29.6 206.28 L30.1 207.53 L30.6 208.45 L31.1 209.33 L31.6 210.18 L32.1 211.01 L32.6 211.82 L33.1 212.61 L33.6 213.39 L34.1 214.14 L34.6 214.88 L35.1 215.6 L36.6 217.65 L38.1 219.56 L39.6 221.35 L41.1 223.01 L42.6 224.57 L44.1 226.02 L45.6 227.38 L47.1 228.65 L48.6 229.84 L50.1 230.96 L51.6 232.01 L53.1 233 L54.6 233.93 L56.1 234.81 L57.6 235.64 L59.1 236.42 L62.1 237.86 L65.1 239.16 L68.1 240.34 L71.1 241.41 L74.1 242.4 L77.1 243.3 L80.1 244.14 L83.1 244.92 L86.1 245.65 L89.1 246.33 L92.1 246.98 L95.1 247.59 L98.1 248.18 L101.1 248.74 L104.1 249.27 L107.1 249.78 L110.1 250.28 L113.1 250.76 L116.1 251.22 L119.1 251.67 L122.1 252.11 L125.1 252.53 L128.1 252.94 L131.1 253.35 L134.1 253.74 L137.1 254.12 L140.1 254.5 L143.1 254.86 L146.1 255.22 L149.1 255.57 L152.1 255.92 L155.1 256.26 L158.1 256.59 L161.1 256.91 L164.1 257.23 L167.1 257.54 L170.1 257.85 L173.1 258.15 L176.1 258.44 L179.1 258.73 L182.1 259.02 L185.1 259.3 L188.1 259.57 L191.1 259.84 L194.1 260.1 L197.1 260.36 L200.1 260.61 L203.1 260.86 L206.1 261.11 L209.1 261.35 L212.1 261.59 L215.1 261.82 L218.1 262.05 L221.1 262.27 L224.1 262.49 L227.1 262.71 L230.1 262.92 L233.1 263.13 L236.1 263.33 L239.1 263.53 L242.1 263.73 L245.1 263.92 L248.1 264.11 L250.8 264.28" fill="none" stroke="#5c5c5c" stroke-width="1.5" stroke-dasharray="3.2 2" stroke-linejoin="round"/>
<path d="M29.1 201.2 L29.6 207.36 L30.1 208.85 L30.6 209.94 L31.1 210.97 L31.6 211.98 L32.1 212.96 L32.6 213.92 L33.1 214.85 L33.6 215.77 L34.1 216.67 L34.6 217.54 L35.1 218.39 L36.6 220.84 L38.1 223.13 L39.6 225.26 L41.1 227.25 L42.6 229.11 L44.1 230.85 L45.6 232.48 L47.1 234 L48.6 235.43 L50.1 236.76 L51.6 238.01 L53.1 239.18 L54.6 240.28 L56.1 241.31 L57.6 242.28 L59.1 243.19 L62.1 244.86 L65.1 246.33 L68.1 247.64 L71.1 248.81 L74.1 249.86 L77.1 250.81 L80.1 251.66 L83.1 252.44 L86.1 253.14 L89.1 253.79 L92.1 254.38 L95.1 254.93 L98.1 255.43 L101.1 255.91 L104.1 256.35 L107.1 256.76 L110.1 257.15 L113.1 257.53 L116.1 257.88 L119.1 258.21 L122.1 258.53 L125.1 258.84 L128.1 259.14 L131.1 259.42 L134.1 259.7 L137.1 259.97 L140.1 260.23 L143.1 260.48 L146.1 260.72 L149.1 260.96 L152.1 261.2 L155.1 261.42 L158.1 261.65 L161.1 261.86 L164.1 262.08 L167.1 262.29 L170.1 262.49 L173.1 262.69 L176.1 262.89 L179.1 263.09 L182.1 263.28 L185.1 263.46 L188.1 263.65 L191.1 263.83 L194.1 264.01 L197.1 264.18 L200.1 264.35 L203.1 264.52 L206.1 264.69 L209.1 264.86 L212.1 265.02 L215.1 265.18 L218.1 265.33 L221.1 265.49 L224.1 265.64 L227.1 265.79 L230.1 265.93 L233.1 266.08 L236.1 266.22 L239.1 266.36 L242.1 266.5 L245.1 266.64 L248.1 266.77 L250.8 266.89" fill="none" stroke="#000" stroke-width="1.9" stroke-dasharray="3.5 1.7" stroke-linejoin="round"/>
<path d="M29.1 201.2 L29.6 206.84 L30.1 208.23 L30.6 209.24 L31.1 210.19 L31.6 211.13 L32.1 212.04 L32.6 212.92 L33.1 213.79 L33.6 214.63 L34.1 215.46 L34.6 216.26 L35.1 217.05 L36.6 219.29 L38.1 221.38 L39.6 223.33 L41.1 225.14 L42.6 226.82 L44.1 228.39 L45.6 229.86 L47.1 231.23 L48.6 232.51 L50.1 233.7 L51.6 234.82 L53.1 235.87 L54.6 236.85 L56.1 237.77 L57.6 238.63 L59.1 239.44 L62.1 240.92 L65.1 242.24 L68.1 243.41 L71.1 244.47 L74.1 245.42 L77.1 246.28 L80.1 247.06 L83.1 247.78 L86.1 248.44 L89.1 249.06 L92.1 249.63 L95.1 250.17 L98.1 250.67 L101.1 251.15 L104.1 251.6 L107.1 252.04 L110.1 252.46 L113.1 252.86 L116.1 253.25 L119.1 253.62 L122.1 253.99 L125.1 254.34 L128.1 254.69 L131.1 255.03 L134.1 255.36 L137.1 255.69 L140.1 256.01 L143.1 256.33 L146.1 256.64 L149.1 256.95 L152.1 257.25 L155.1 257.55 L158.1 257.85 L161.1 258.14 L164.1 258.43 L167.1 258.72 L170.1 259 L173.1 259.28 L176.1 259.56 L179.1 259.83 L182.1 260.11 L185.1 260.38 L188.1 260.64 L191.1 260.91 L194.1 261.17 L197.1 261.43 L200.1 261.69 L203.1 261.95 L206.1 262.2 L209.1 262.45 L212.1 262.7 L215.1 262.95 L218.1 263.2 L221.1 263.44 L224.1 263.68 L227.1 263.92 L230.1 264.16 L233.1 264.4 L236.1 264.63 L239.1 264.86 L242.1 265.09 L245.1 265.32 L248.1 265.55 L250.8 265.75" fill="none" stroke="#000" stroke-width="1.9" stroke-linejoin="round"/>
<path d="M290.9 201.2 L291.4 203.66 L291.9 206.01 L292.4 208.25 L292.9 210.4 L293.4 212.45 L293.9 214.42 L294.4 216.31 L294.9 218.12 L295.4 219.86 L295.9 221.53 L296.4 223.14 L296.9 224.68 L298.4 228.98 L299.9 232.83 L301.4 236.3 L302.9 239.44 L304.4 242.3 L305.9 244.91 L307.4 247.3 L308.9 249.5 L310.4 251.53 L311.9 253.41 L313.4 255.16 L314.9 256.78 L316.4 258.28 L317.9 259.69 L319.4 261.01 L320.9 262.24 L323.9 264.48 L326.9 266.46 L329.9 268.22 L332.9 269.78 L335.9 271.19 L338.9 272.45 L341.9 273.59 L344.9 274.62 L347.9 275.56 L350.9 276.41 L353.9 277.2 L356.9 277.93 L359.9 278.6 L362.9 279.22 L365.9 279.8 L368.9 280.34 L371.9 280.85 L374.9 281.33 L377.9 281.79 L380.9 282.22 L383.9 282.63 L386.9 283.03 L389.9 283.4 L392.9 283.77 L395.9 284.12 L398.9 284.46 L401.9 284.78 L404.9 285.1 L407.9 285.41 L410.9 285.71 L413.9 286 L416.9 286.28 L419.9 286.56 L422.9 286.83 L425.9 287.1 L428.9 287.36 L431.9 287.61 L434.9 287.86 L437.9 288.11 L440.9 288.35 L443.9 288.58 L446.9 288.82 L449.9 289.04 L452.9 289.27 L455.9 289.49 L458.9 289.71 L461.9 289.92 L464.9 290.13 L467.9 290.34 L470.9 290.54 L473.9 290.74 L476.9 290.94 L479.9 291.13 L482.9 291.32 L485.9 291.51 L488.9 291.7 L491.9 291.88 L494.9 292.06 L497.9 292.24 L500.9 292.41 L503.9 292.59 L506.9 292.76 L509.9 292.92 L512.5 293.07" fill="none" stroke="#565656" stroke-width="1.5" stroke-linejoin="round"/>
<path d="M290.9 201.2 L291.4 205.18 L291.9 208.86 L292.4 212.27 L292.9 215.45 L293.4 218.41 L293.9 221.18 L294.4 223.77 L294.9 226.2 L295.4 228.49 L295.9 230.64 L296.4 232.68 L296.9 234.6 L298.4 239.79 L299.9 244.26 L301.4 248.16 L302.9 251.58 L304.4 254.6 L305.9 257.3 L307.4 259.71 L308.9 261.87 L310.4 263.83 L311.9 265.6 L313.4 267.21 L314.9 268.68 L316.4 270.01 L317.9 271.24 L319.4 272.37 L320.9 273.41 L323.9 275.26 L326.9 276.86 L329.9 278.26 L332.9 279.49 L335.9 280.59 L338.9 281.58 L341.9 282.49 L344.9 283.31 L347.9 284.08 L350.9 284.8 L353.9 285.47 L356.9 286.1 L359.9 286.7 L362.9 287.27 L365.9 287.81 L368.9 288.33 L371.9 288.83 L374.9 289.31 L377.9 289.77 L380.9 290.21 L383.9 290.64 L386.9 291.05 L389.9 291.45 L392.9 291.84 L395.9 292.21 L398.9 292.57 L401.9 292.92 L404.9 293.26 L407.9 293.59 L410.9 293.9 L413.9 294.21 L416.9 294.51 L419.9 294.8 L422.9 295.09 L425.9 295.36 L428.9 295.63 L431.9 295.89 L434.9 296.14 L437.9 296.38 L440.9 296.62 L443.9 296.85 L446.9 297.08 L449.9 297.3 L452.9 297.51 L455.9 297.72 L458.9 297.92 L461.9 298.12 L464.9 298.31 L467.9 298.5 L470.9 298.68 L473.9 298.86 L476.9 299.04 L479.9 299.21 L482.9 299.37 L485.9 299.54 L488.9 299.69 L491.9 299.85 L494.9 300 L497.9 300.15 L500.9 300.3 L503.9 300.44 L506.9 300.58 L509.9 300.72 L512.5 300.83" fill="none" stroke="#5c5c5c" stroke-width="1.5" stroke-dasharray="3.2 2" stroke-linejoin="round"/>
<path d="M290.9 201.2 L291.4 206.02 L291.9 210.34 L292.4 214.23 L292.9 217.75 L293.4 220.94 L293.9 223.85 L294.4 226.52 L294.9 228.97 L295.4 231.23 L295.9 233.33 L296.4 235.28 L296.9 237.11 L298.4 241.95 L299.9 246.05 L301.4 249.61 L302.9 252.76 L304.4 255.58 L305.9 258.14 L307.4 260.47 L308.9 262.61 L310.4 264.57 L311.9 266.39 L313.4 268.07 L314.9 269.63 L316.4 271.07 L317.9 272.42 L319.4 273.67 L320.9 274.83 L323.9 276.94 L326.9 278.78 L329.9 280.39 L332.9 281.82 L335.9 283.08 L338.9 284.21 L341.9 285.22 L344.9 286.13 L347.9 286.96 L350.9 287.72 L353.9 288.42 L356.9 289.06 L359.9 289.66 L362.9 290.21 L365.9 290.73 L368.9 291.23 L371.9 291.69 L374.9 292.14 L377.9 292.56 L380.9 292.96 L383.9 293.35 L386.9 293.73 L389.9 294.09 L392.9 294.44 L395.9 294.78 L398.9 295.1 L401.9 295.42 L404.9 295.73 L407.9 296.04 L410.9 296.33 L413.9 296.62 L416.9 296.9 L419.9 297.17 L422.9 297.44 L425.9 297.7 L428.9 297.96 L431.9 298.21 L434.9 298.46 L437.9 298.7 L440.9 298.94 L443.9 299.17 L446.9 299.39 L449.9 299.62 L452.9 299.83 L455.9 300.05 L458.9 300.26 L461.9 300.46 L464.9 300.66 L467.9 300.86 L470.9 301.05 L473.9 301.24 L476.9 301.43 L479.9 301.61 L482.9 301.79 L485.9 301.97 L488.9 302.14 L491.9 302.31 L494.9 302.47 L497.9 302.64 L500.9 302.79 L503.9 302.95 L506.9 303.1 L509.5 303.23" fill="none" stroke="#000" stroke-width="1.9" stroke-dasharray="3.5 1.7" stroke-linejoin="round"/>
<path d="M290.9 201.2 L291.4 205.42 L291.9 209.21 L292.4 212.64 L292.9 215.75 L293.4 218.6 L293.9 221.21 L294.4 223.62 L294.9 225.85 L295.4 227.93 L295.9 229.87 L296.4 231.68 L296.9 233.4 L298.4 238 L299.9 241.99 L301.4 245.51 L302.9 248.66 L304.4 251.51 L305.9 254.1 L307.4 256.48 L308.9 258.67 L310.4 260.68 L311.9 262.54 L313.4 264.26 L314.9 265.86 L316.4 267.33 L317.9 268.7 L319.4 269.98 L320.9 271.16 L323.9 273.3 L326.9 275.15 L329.9 276.77 L332.9 278.2 L335.9 279.45 L338.9 280.57 L341.9 281.56 L344.9 282.46 L347.9 283.26 L350.9 283.99 L353.9 284.66 L356.9 285.27 L359.9 285.83 L362.9 286.36 L365.9 286.85 L368.9 287.3 L371.9 287.73 L374.9 288.14 L377.9 288.53 L380.9 288.9 L383.9 289.25 L386.9 289.59 L389.9 289.92 L392.9 290.23 L395.9 290.53 L398.9 290.83 L401.9 291.12 L404.9 291.39 L407.9 291.67 L410.9 291.93 L413.9 292.19 L416.9 292.44 L419.9 292.69 L422.9 292.93 L425.9 293.17 L428.9 293.4 L431.9 293.63 L434.9 293.86 L437.9 294.08 L440.9 294.3 L443.9 294.52 L446.9 294.73 L449.9 294.94 L452.9 295.15 L455.9 295.35 L458.9 295.56 L461.9 295.76 L464.9 295.95 L467.9 296.15 L470.9 296.34 L473.9 296.53 L476.9 296.72 L479.9 296.91 L482.9 297.1 L485.9 297.28 L488.9 297.46 L491.9 297.64 L494.9 297.82 L497.9 298 L500.9 298.18 L503.9 298.35 L506.9 298.53 L509.9 298.7 L512.5 298.85" fill="none" stroke="#000" stroke-width="1.9" stroke-linejoin="round"/>
<path d="M388.8 32.2 H405.3" fill="none" stroke="#565656" stroke-width="1.5"/>
<text transform="translate(510.9 34.9) scale(1.15 1)" text-anchor="end" font-size="5.7" font-weight="bold" fill="#1a1a1a" letter-spacing="0.56" word-spacing="1.0">Married, Higher SES</text>
<path d="M388.8 39 H405.3" fill="none" stroke="#5c5c5c" stroke-width="1.5" stroke-dasharray="7.2 4.4"/>
<text transform="translate(510.9 41.7) scale(1.15 1)" text-anchor="end" font-size="5.7" font-weight="bold" fill="#1a1a1a" letter-spacing="0.56" word-spacing="1.0">Married, Lower SES</text>
<path d="M388.8 45.9 H405.3" fill="none" stroke="#000" stroke-width="1.9"/>
<text transform="translate(510.9 48.6) scale(1.15 1)" text-anchor="end" font-size="5.7" font-weight="bold" fill="#1a1a1a" letter-spacing="0.56" word-spacing="1.0">Non—Married, Higher SES</text>
<path d="M388.8 52.8 H405.3" fill="none" stroke="#000" stroke-width="1.9" stroke-dasharray="7.2 4.4"/>
<text transform="translate(510.9 55.5) scale(1.15 1)" text-anchor="end" font-size="5.7" font-weight="bold" fill="#1a1a1a" letter-spacing="0.56" word-spacing="1.0">Non—Married, Lower SES</text>
</svg>
</body></html>
